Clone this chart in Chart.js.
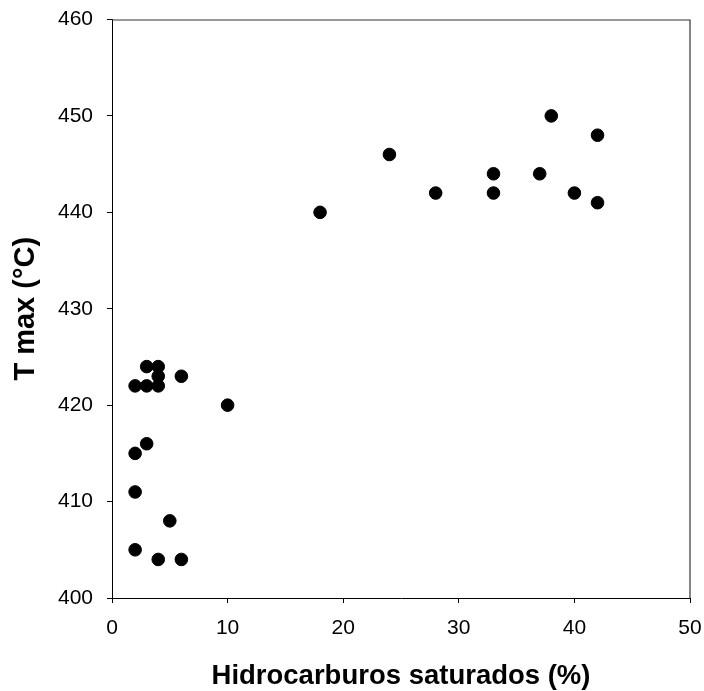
<!DOCTYPE html>
<html>
<head>
<meta charset="utf-8">
<script src="https://cdn.jsdelivr.net/npm/chart.js@4/dist/chart.umd.min.js"></script>
<style>
  html, body { margin: 0; padding: 0; background: #fff; }
  #wrap { width: 704px; height: 691px; }
</style>
</head>
<body>
<div id="wrap"><canvas id="chart" width="704" height="691"></canvas></div>
<script>
// ── Datos ──────────────────────────────────────────────────────────────────
const satPct = [3, 4, 4, 6, 2, 3, 4, 10, 3, 2, 2, 5, 2, 4, 6,
                18, 24, 28, 33, 33, 37, 38, 40, 42, 42];
const tMax   = [424, 424, 423, 423, 422, 422, 422, 420, 416, 415, 411, 408, 405, 404, 404,
                440, 446, 442, 444, 442, 444, 450, 442, 448, 441];
const xTicks = [0, 10, 20, 30, 40, 50];
const yTicks = [400, 410, 420, 430, 440, 450, 460];

const FONT = 'Arial, "Liberation Sans", Helvetica, sans-serif';

// marco superior y derecho
const framePlugin = {
  id: 'frame',
  afterDraw(chart) {
    const { ctx, chartArea: a } = chart;
    ctx.save();
    ctx.strokeStyle = '#333';
    ctx.lineWidth = 1.2;
    ctx.beginPath();
    ctx.moveTo(a.left, Math.round(a.top));
    ctx.lineTo(Math.round(a.right), Math.round(a.top));
    ctx.lineTo(Math.round(a.right), a.bottom);
    ctx.stroke();
    ctx.restore();
  }
};

new Chart(document.getElementById('chart'), {
  type: 'scatter',
  data: {
    datasets: [{
      data: satPct.map((x, i) => ({ x, y: tMax[i] })),
      backgroundColor: '#000',
      borderColor: '#000',
      pointRadius: 6.3,
      pointHoverRadius: 6.3
    }]
  },
  options: {
    responsive: false,
    animation: false,
    layout: { autoPadding: false, padding: { top: 19.5, right: 14, left: 0, bottom: 0 } },
    plugins: { legend: { display: false }, tooltip: { enabled: false } },
    scales: {
      x: {
        type: 'linear',
        min: 0, max: 50,
        afterFit: s => { s.height = 93; s.paddingLeft = 0; s.paddingRight = 0; },
        afterBuildTicks: s => { s.ticks = xTicks.map(v => ({ value: v })); },
        border: { display: true, color: '#000', width: 1 },
        grid: { drawOnChartArea: false, drawTicks: true, tickLength: 5, color: '#000' },
        ticks: { color: '#000', font: { family: FONT, size: 21 }, padding: 13, maxRotation: 0 },
        title: {
          display: true,
          text: 'Hidrocarburos saturados (%)',
          color: '#000',
          font: { family: FONT, size: 27.5, weight: 'bold' },
          padding: { top: 0, bottom: -2 }
        }
      },
      y: {
        type: 'linear',
        min: 400, max: 460,
        afterFit: s => { s.width = 112; s.paddingTop = 0; s.paddingBottom = 0; },
        afterBuildTicks: s => { s.ticks = yTicks.map(v => ({ value: v })); },
        border: { display: true, color: '#000', width: 1 },
        grid: { drawOnChartArea: false, drawTicks: true, tickLength: 5, color: '#000' },
        ticks: { color: '#000', font: { family: FONT, size: 21 }, padding: 14 },
        title: {
          display: true,
          text: 'T max (°C)',
          color: '#000',
          font: { family: FONT, size: 29, weight: 'bold' },
          padding: { top: 9, bottom: 0 }
        }
      }
    }
  },
  plugins: [framePlugin]
});
</script>
</body>
</html>
